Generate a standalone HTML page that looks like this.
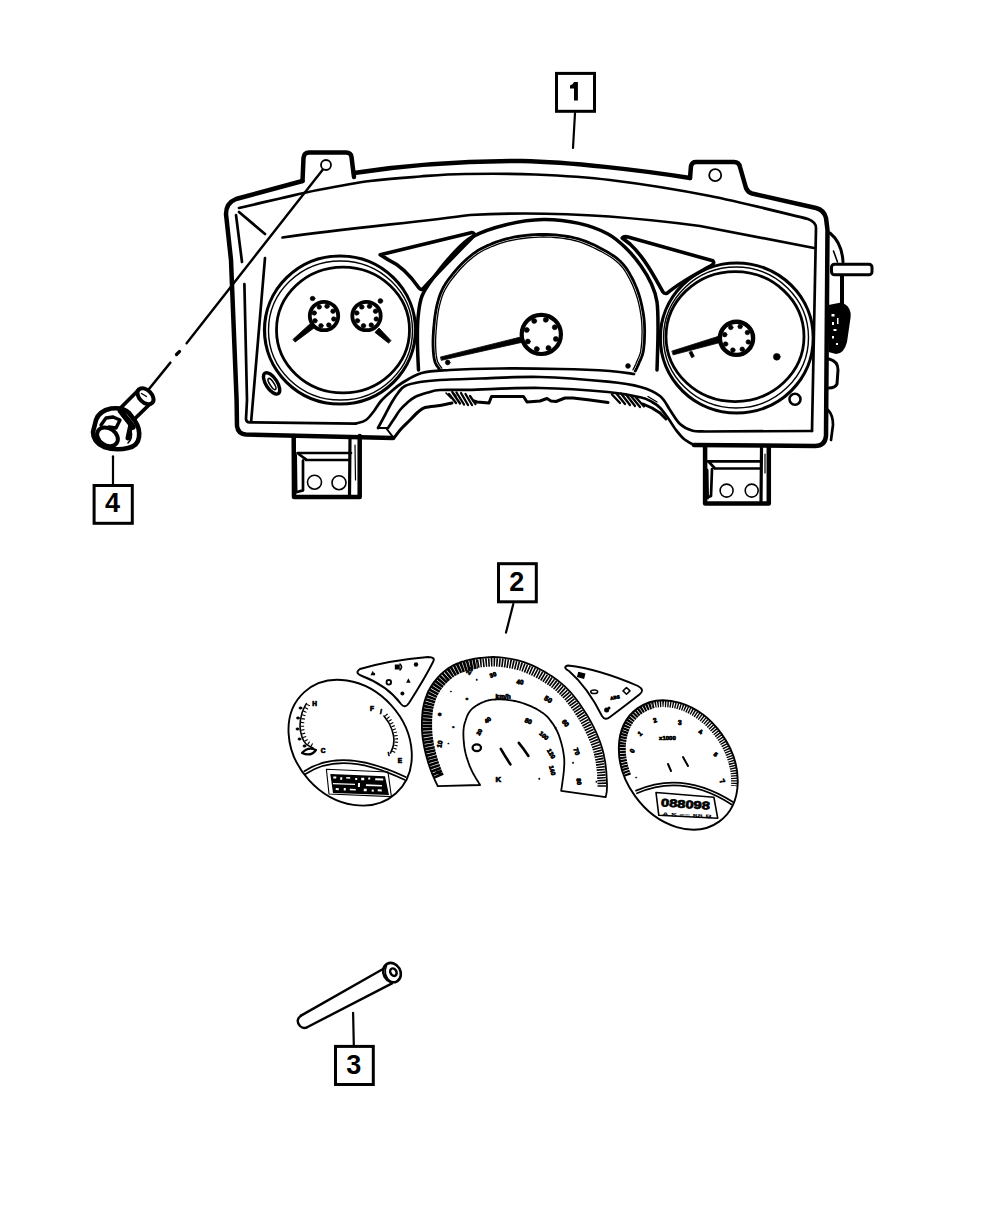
<!DOCTYPE html>
<html><head><meta charset="utf-8"><style>
html,body{margin:0;padding:0;background:#fff;}
svg{display:block;}
text{font-family:"Liberation Sans",sans-serif;}
</style></head><body>
<svg width="1000" height="1214" viewBox="0 0 1000 1214" stroke-linecap="round" stroke-linejoin="round">
<rect width="1000" height="1214" fill="#fff"/>
<rect x="556.5" y="73.4" width="38" height="37.89999999999999" fill="none" stroke="#000" stroke-width="3" stroke-linejoin="miter"/>
<path d="M574,82 L577.9,82 L577.9,100.6 L574,100.6 L574,88.6 L570,88.6 L570,85.4 Q573.2,84.9 574,82 Z" fill="#000"/>
<line x1="575" y1="113" x2="573" y2="148" stroke="#000" stroke-width="2.2"/>
<rect x="498.5" y="563.7" width="37.799999999999955" height="38.09999999999991" fill="none" stroke="#000" stroke-width="3" stroke-linejoin="miter"/>
<text x="516.8" y="591" text-anchor="middle" font-weight="bold" font-size="27">2</text>
<line x1="513.3" y1="604" x2="506" y2="632.6" stroke="#000" stroke-width="2.2"/>
<rect x="335.5" y="1046.4" width="37.80000000000001" height="38.09999999999991" fill="none" stroke="#000" stroke-width="3" stroke-linejoin="miter"/>
<text x="353.8" y="1074" text-anchor="middle" font-weight="bold" font-size="27">3</text>
<line x1="353.1" y1="1012.8" x2="353.8" y2="1045" stroke="#000" stroke-width="2.2"/>
<rect x="94.1" y="485.5" width="38.20000000000002" height="37.799999999999955" fill="none" stroke="#000" stroke-width="3" stroke-linejoin="miter"/>
<text x="112.4" y="512.3" text-anchor="middle" font-weight="bold" font-size="27">4</text>
<line x1="113" y1="456.3" x2="113" y2="484" stroke="#000" stroke-width="2.2"/>
<path d="M302.5,181 L303.5,158 Q304,152.5 309,152.5 L346,152.5 Q351,152.5 351.5,157 L354,177" fill="none" stroke="#000" stroke-width="4.5" />
<path d="M302.5,181 L236,199 Q226,203 226,214 L231,260 L236.6,400 L237,426 Q238,434 246,434.5 L393,438" fill="none" stroke="#000" stroke-width="4.5" />
<path d="M354,173 C400,166 450,161 522,161 C570,162 640,170 690,178" fill="none" stroke="#000" stroke-width="4.5" />
<path d="M690,178 L691,166 Q692,162 696,162 L734,162 Q739,162 740,167 L746,188 Q748,192.5 752,193.5 L816,208 Q824,210 826,218 L827.5,230 L826,436 Q825,446 815,446 L694,445" fill="none" stroke="#000" stroke-width="4.5" />
<path d="M239.0,208.0 C245.8,206.4 266.8,201.5 280.0,198.5 C293.2,195.5 303.0,192.9 318.0,190.0 C333.0,187.1 353.0,183.2 370.0,181.0 C387.0,178.8 404.2,177.7 420.0,176.5 C435.8,175.3 445.8,174.3 465.0,174.0 C484.2,173.7 510.8,173.5 535.0,174.5 C559.2,175.5 580.8,176.4 610.0,180.0 C639.2,183.6 677.0,189.5 710.0,196.0 C743.0,202.5 791.7,215.2 808.0,219.0 Q816,222 816,228 L812,431" fill="none" stroke="#000" stroke-width="2.7" />
<path d="M282.5,237.5 C350,228 420,222 470,215 C560,210 640,218 700,226 L814,248" fill="none" stroke="#000" stroke-width="2.7" />
<path d="M239,212 L265,234" fill="none" stroke="#000" stroke-width="2.7" />
<path d="M236,215 L242,262" fill="none" stroke="#000" stroke-width="2.7" />
<path d="M244.4,284 L247,400 L246,419 Q246,422.4 250,422.4 L356,423.6" fill="none" stroke="#000" stroke-width="2.7" />
<path d="M265,258 L251.2,421" fill="none" stroke="#000" stroke-width="2.7" />
<path d="M830,233 Q842,243 843,262" fill="none" stroke="#000" stroke-width="3" />
<path d="M833.5,251 L837.5,262" fill="none" stroke="#000" stroke-width="1.6" />
<rect x="831.5" y="264.2" width="40.5" height="10.5" rx="3" fill="#fff" stroke="#000" stroke-width="3"/>
<path d="M842,276 L842,305" fill="none" stroke="#000" stroke-width="4" />
<path d="M828.5,305 L841,302.5 Q852,306 850.5,318 L847,342 Q844,354 836,354 L828.5,352 Z" fill="#000"/>
<path d="M831.5,314 h3 v2.5 h-3z M832,322 h2 v3 h-2z M833.5,329 h3 v2 h-3z M832,336 h2 v2.5 h-2z M836,343 h2 v2 h-2z M837,318 h1.5 v6 h-1.5z" fill="#fff"/>
<path d="M829,359 Q838,361 838,370 L837,384 Q835,388 829,388" fill="none" stroke="#000" stroke-width="3" />
<path d="M828,410 Q833,415 833,425 L831,440" fill="none" stroke="#000" stroke-width="2.7" />
<ellipse cx="326" cy="165" rx="5" ry="5" fill="none" stroke="#000" stroke-width="1.8" />
<ellipse cx="715.2" cy="175.2" rx="6" ry="6" fill="none" stroke="#000" stroke-width="1.8" />
<path d="M322.5,170 L186.6,343.2" fill="none" stroke="#000" stroke-width="2.4" />
<path d="M179.5,351.5 L176.5,354.5" fill="none" stroke="#000" stroke-width="3.2" />
<path d="M170.3,362.7 L148.2,390" fill="none" stroke="#000" stroke-width="2.6" />
<ellipse cx="340" cy="330" rx="75.5" ry="74" fill="none" stroke="#000" stroke-width="3.2" />
<ellipse cx="340.5" cy="330.5" rx="72" ry="69.5" fill="none" stroke="#000" stroke-width="1.4" />
<ellipse cx="343" cy="330" rx="66.5" ry="62.8" fill="none" stroke="#000" stroke-width="2.8" />
<ellipse cx="324" cy="316" rx="14.2" ry="14.2" fill="none" stroke="#000" stroke-width="3.8" />
<ellipse cx="333.773092283755" cy="319.0231717141455" rx="2.3" ry="2.3" fill="#000" stroke="#000" stroke-width="0.6" />
<ellipse cx="328.7729146072414" cy="325.0483250467687" rx="2.3" ry="2.3" fill="#000" stroke="#000" stroke-width="0.6" />
<ellipse cx="320.9768282858545" cy="325.773092283755" rx="2.3" ry="2.3" fill="#000" stroke="#000" stroke-width="0.6" />
<ellipse cx="314.9516749532313" cy="320.77291460724143" rx="2.3" ry="2.3" fill="#000" stroke="#000" stroke-width="0.6" />
<ellipse cx="314.226907716245" cy="312.9768282858545" rx="2.3" ry="2.3" fill="#000" stroke="#000" stroke-width="0.6" />
<ellipse cx="319.22708539275857" cy="306.9516749532313" rx="2.3" ry="2.3" fill="#000" stroke="#000" stroke-width="0.6" />
<ellipse cx="327.0231717141455" cy="306.226907716245" rx="2.3" ry="2.3" fill="#000" stroke="#000" stroke-width="0.6" />
<ellipse cx="333.0483250467687" cy="311.22708539275857" rx="2.3" ry="2.3" fill="#000" stroke="#000" stroke-width="0.6" />
<ellipse cx="366.5" cy="316" rx="14.2" ry="14.2" fill="none" stroke="#000" stroke-width="3.8" />
<ellipse cx="376.273092283755" cy="319.0231717141455" rx="2.3" ry="2.3" fill="#000" stroke="#000" stroke-width="0.6" />
<ellipse cx="371.2729146072414" cy="325.0483250467687" rx="2.3" ry="2.3" fill="#000" stroke="#000" stroke-width="0.6" />
<ellipse cx="363.4768282858545" cy="325.773092283755" rx="2.3" ry="2.3" fill="#000" stroke="#000" stroke-width="0.6" />
<ellipse cx="357.4516749532313" cy="320.77291460724143" rx="2.3" ry="2.3" fill="#000" stroke="#000" stroke-width="0.6" />
<ellipse cx="356.726907716245" cy="312.9768282858545" rx="2.3" ry="2.3" fill="#000" stroke="#000" stroke-width="0.6" />
<ellipse cx="361.72708539275857" cy="306.9516749532313" rx="2.3" ry="2.3" fill="#000" stroke="#000" stroke-width="0.6" />
<ellipse cx="369.5231717141455" cy="306.226907716245" rx="2.3" ry="2.3" fill="#000" stroke="#000" stroke-width="0.6" />
<ellipse cx="375.5483250467687" cy="311.22708539275857" rx="2.3" ry="2.3" fill="#000" stroke="#000" stroke-width="0.6" />
<path d="M295.3,341.9 L315.6,326.8 L311.8,322.2 L293.1,339.3 Z" fill="#000" stroke="#000" stroke-width="0.8"/>
<path d="M390.8,340.4 L379.0,328.0 L375.0,332.4 L388.4,343.0 Z" fill="#000" stroke="#000" stroke-width="0.8"/>
<ellipse cx="380.4" cy="301" rx="2.4" ry="2.4" fill="#000" stroke="#000" stroke-width="0.6" />
<ellipse cx="312.6" cy="298.5" rx="2.4" ry="2.2" fill="#000" stroke="#000" stroke-width="0.6" />
<ellipse cx="271.6" cy="383.4" rx="12.2" ry="5.6" fill="none" stroke="#000" stroke-width="3.4" transform="rotate(57 271.6 383.4)" />
<ellipse cx="272" cy="384" rx="6.5" ry="2" fill="none" stroke="#000" stroke-width="1.6" transform="rotate(57 272 384)" />
<path d="M418.5,370.0 C418.3,365.8 417.6,353.7 417.5,345.0 C417.4,336.3 417.2,326.2 418.0,318.0 C418.8,309.8 419.3,302.8 422.0,296.0 C424.7,289.2 429.0,283.8 434.0,277.0 C439.0,270.2 445.7,261.7 452.0,255.0 C458.3,248.3 463.0,242.1 472.0,237.0 C481.0,231.9 494.2,227.6 506.0,224.7 C517.8,221.8 530.8,219.7 543.0,219.5 C555.2,219.3 568.2,221.0 579.0,223.4 C589.8,225.8 600.0,229.7 608.0,234.0 C616.0,238.3 621.3,243.7 626.8,249.0 C632.3,254.3 636.9,260.2 641.0,266.0 C645.1,271.8 648.8,278.0 651.5,284.0 C654.2,290.0 655.9,294.3 657.0,302.0 C658.1,309.7 658.0,318.7 658.0,330.0 C658.0,341.3 657.2,363.3 657.0,370.0" fill="none" stroke="#000" stroke-width="3.5" />
<path d="M439.6,369.6 L439.2,369.0 L438.6,368.2 L438.0,367.3 L437.3,366.3 L436.5,365.1 L435.8,363.9 L435.2,362.5 L434.7,361.0 L434.3,359.4 L434.0,357.6 L433.7,355.7 L433.5,353.7 L433.3,351.6 L433.2,349.5 L433.1,347.2 L433.0,345.0 L433.0,342.7 L433.0,340.3 L433.1,337.8 L433.2,335.2 L433.4,332.7 L433.5,330.1 L433.8,327.5 L434.0,325.0 L434.3,322.5 L434.5,319.9 L434.8,317.4 L435.2,314.8 L435.6,312.3 L436.0,309.8 L436.5,307.4 L437.0,305.0 L437.6,302.7 L438.2,300.5 L438.8,298.4 L439.5,296.2 L440.2,294.2 L441.1,292.1 L442.0,290.1 L443.0,288.0 L444.2,285.9 L445.4,283.9 L446.8,281.8 L448.2,279.8 L449.7,277.8 L451.3,275.8 L452.8,273.9 L454.4,272.0 L456.0,270.1 L457.6,268.3 L459.2,266.5 L460.9,264.7 L462.6,262.9 L464.4,261.2 L466.2,259.6 L468.0,258.0 L469.8,256.5 L471.6,255.0 L473.4,253.6 L475.2,252.3 L477.2,251.0 L479.2,249.7 L481.5,248.5 L484.0,247.2 L486.7,245.9 L489.6,244.7 L492.7,243.4 L495.9,242.1 L499.3,241.0 L502.8,239.9 L506.3,238.9 L510.0,238.0 L513.8,237.2 L517.8,236.5 L521.9,235.9 L526.1,235.4 L530.4,235.0 L534.7,234.7 L538.9,234.5 L543.0,234.4 L547.1,234.5 L551.2,234.6 L555.4,234.9 L559.5,235.4 L563.6,235.9 L567.5,236.5 L571.3,237.2 L575.0,238.0 L578.5,238.9 L581.9,240.0 L585.1,241.1 L588.2,242.4 L591.3,243.7 L594.3,245.1 L597.2,246.6 L600.0,248.0 L602.8,249.5 L605.5,250.9 L608.2,252.5 L610.8,254.1 L613.3,255.7 L615.7,257.4 L617.9,259.2 L620.0,261.0 L621.9,262.9 L623.6,264.9 L625.2,266.9 L626.7,268.9 L628.1,271.1 L629.4,273.3 L630.7,275.6 L632.0,278.0 L633.3,280.5 L634.5,283.1 L635.6,285.8 L636.8,288.5 L637.8,291.3 L638.8,294.2 L639.7,297.1 L640.5,300.0 L641.2,303.0 L641.9,306.0 L642.5,309.2 L643.1,312.3 L643.6,315.5 L644.0,318.7 L644.3,321.9 L644.5,325.0 L644.6,328.2 L644.7,331.5 L644.6,334.9 L644.5,338.2 L644.4,341.5 L644.1,344.6 L643.8,347.4 L643.5,350.0 L643.1,352.2 L642.6,354.2 L642.0,356.0 L641.4,357.6 L640.8,359.0 L640.2,360.4 L639.5,361.7 L639.0,363.0 L638.5,364.3 L637.9,365.5 L637.4,366.7 L636.9,367.8 L636.4,368.8 L635.9,369.7 L635.6,370.4 L635.3,371.0" fill="none" stroke="#000" stroke-width="2.8" />
<path d="M441.8,368.2 L441.3,367.5 L440.7,366.7 L440.1,365.8 L439.4,364.9 L438.8,363.8 L438.1,362.7 L437.6,361.5 L437.2,360.3 L436.9,358.8 L436.6,357.2 L436.3,355.4 L436.1,353.5 L435.9,351.4 L435.8,349.3 L435.7,347.1 L435.6,345.0 L435.6,342.7 L435.6,340.3 L435.7,337.9 L435.8,335.4 L436.0,332.8 L436.1,330.3 L436.4,327.8 L436.6,325.3 L436.8,322.8 L437.1,320.2 L437.4,317.7 L437.8,315.2 L438.1,312.7 L438.5,310.3 L439.0,307.9 L439.5,305.6 L440.1,303.4 L440.7,301.2 L441.3,299.1 L441.9,297.1 L442.7,295.1 L443.4,293.1 L444.3,291.2 L445.3,289.2 L446.4,287.3 L447.6,285.3 L448.9,283.3 L450.3,281.3 L451.8,279.4 L453.3,277.5 L454.8,275.5 L456.4,273.7 L458.0,271.8 L459.5,270.0 L461.1,268.2 L462.8,266.5 L464.5,264.8 L466.2,263.1 L467.9,261.5 L469.7,260.0 L471.5,258.5 L473.2,257.1 L475.0,255.7 L476.7,254.4 L478.6,253.2 L480.6,252.0 L482.7,250.8 L485.1,249.5 L487.8,248.3 L490.7,247.0 L493.7,245.8 L496.8,244.6 L500.1,243.4 L503.5,242.4 L507.0,241.4 L510.6,240.5 L514.3,239.8 L518.2,239.1 L522.3,238.5 L526.4,238.0 L530.6,237.6 L534.8,237.3 L539.0,237.1 L543.0,237.0 L547.0,237.1 L551.1,237.2 L555.2,237.5 L559.2,237.9 L563.2,238.4 L567.1,239.0 L570.8,239.7 L574.4,240.5 L577.8,241.4 L581.0,242.4 L584.2,243.6 L587.2,244.8 L590.2,246.1 L593.1,247.5 L596.0,248.9 L598.8,250.3 L601.6,251.7 L604.3,253.2 L606.9,254.7 L609.4,256.3 L611.8,257.8 L614.1,259.5 L616.3,261.2 L618.2,262.9 L620.0,264.7 L621.7,266.5 L623.2,268.4 L624.6,270.4 L625.9,272.5 L627.2,274.6 L628.4,276.9 L629.7,279.2 L630.9,281.6 L632.1,284.1 L633.2,286.8 L634.3,289.4 L635.3,292.2 L636.3,295.0 L637.2,297.8 L638.0,300.7 L638.7,303.6 L639.4,306.6 L640.0,309.6 L640.5,312.7 L641.0,315.8 L641.4,319.0 L641.7,322.1 L641.9,325.2 L642.0,328.3 L642.1,331.5 L642.0,334.8 L641.9,338.1 L641.8,341.3 L641.5,344.4 L641.2,347.2 L640.9,349.6 L640.6,351.7 L640.1,353.5 L639.6,355.1 L639.0,356.6 L638.4,358.0 L637.8,359.3 L637.2,360.6 L636.6,362.0 L636.1,363.3 L635.6,364.5 L635.0,365.6 L634.5,366.7 L634.1,367.7 L633.6,368.5 L633.2,369.3 L633.0,369.9" fill="none" stroke="#000" stroke-width="1.3" />
<ellipse cx="541.3" cy="334.4" rx="19.6" ry="19.6" fill="none" stroke="#000" stroke-width="4.2" />
<ellipse cx="555.8688814591654" cy="338.9066831515854" rx="2.5" ry="2.5" fill="#000" stroke="#000" stroke-width="0.6" />
<ellipse cx="548.4150486569337" cy="347.8884610912241" rx="2.5" ry="2.5" fill="#000" stroke="#000" stroke-width="0.6" />
<ellipse cx="536.7933168484145" cy="348.96888145916546" rx="2.5" ry="2.5" fill="#000" stroke="#000" stroke-width="0.6" />
<ellipse cx="527.8115389087759" cy="341.51504865693363" rx="2.5" ry="2.5" fill="#000" stroke="#000" stroke-width="0.6" />
<ellipse cx="526.7311185408345" cy="329.89331684841454" rx="2.5" ry="2.5" fill="#000" stroke="#000" stroke-width="0.6" />
<ellipse cx="534.1849513430662" cy="320.91153890877587" rx="2.5" ry="2.5" fill="#000" stroke="#000" stroke-width="0.6" />
<ellipse cx="545.8066831515854" cy="319.8311185408345" rx="2.5" ry="2.5" fill="#000" stroke="#000" stroke-width="0.6" />
<ellipse cx="554.788461091224" cy="327.2849513430663" rx="2.5" ry="2.5" fill="#000" stroke="#000" stroke-width="0.6" />
<path d="M441.6,360.3 L522.6,342.2 L521.4,336.8 L440.8,356.9 Z" fill="#000" stroke="#000" stroke-width="0.8"/>
<ellipse cx="447.7" cy="362.5" rx="2.4" ry="2.4" fill="#000" stroke="#000" stroke-width="0.6" />
<ellipse cx="628" cy="366" rx="2.4" ry="2.4" fill="#000" stroke="#000" stroke-width="0.6" />
<ellipse cx="736.8" cy="338" rx="76.5" ry="75" fill="none" stroke="#000" stroke-width="3.2" />
<ellipse cx="736" cy="337.5" rx="72.5" ry="70.5" fill="none" stroke="#000" stroke-width="1.4" />
<ellipse cx="735" cy="336.6" rx="69" ry="65" fill="none" stroke="#000" stroke-width="2.8" />
<ellipse cx="736.5" cy="338.3" rx="16.6" ry="16.6" fill="none" stroke="#000" stroke-width="4.4" />
<ellipse cx="748.2792989109187" cy="341.94376414813433" rx="2.3" ry="2.3" fill="#000" stroke="#000" stroke-width="0.6" />
<ellipse cx="742.2526917993438" cy="349.2057524757241" rx="2.3" ry="2.3" fill="#000" stroke="#000" stroke-width="0.6" />
<ellipse cx="732.8562358518657" cy="350.07929891091874" rx="2.3" ry="2.3" fill="#000" stroke="#000" stroke-width="0.6" />
<ellipse cx="725.5942475242758" cy="344.05269179934373" rx="2.3" ry="2.3" fill="#000" stroke="#000" stroke-width="0.6" />
<ellipse cx="724.7207010890813" cy="334.6562358518657" rx="2.3" ry="2.3" fill="#000" stroke="#000" stroke-width="0.6" />
<ellipse cx="730.7473082006562" cy="327.3942475242759" rx="2.3" ry="2.3" fill="#000" stroke="#000" stroke-width="0.6" />
<ellipse cx="740.1437641481343" cy="326.5207010890813" rx="2.3" ry="2.3" fill="#000" stroke="#000" stroke-width="0.6" />
<ellipse cx="747.4057524757242" cy="332.5473082006563" rx="2.3" ry="2.3" fill="#000" stroke="#000" stroke-width="0.6" />
<path d="M673.4,354.8 L719.9,342.6 L718.1,336.4 L672.2,351.0 Z" fill="#000" stroke="#000" stroke-width="0.8"/>
<path d="M689.2,352.7 L691.7,357.7 L694.3,356.3 L691.8,351.3 Z" fill="#000" stroke="#000" stroke-width="0.8"/>
<ellipse cx="776.8" cy="356.8" rx="3.4" ry="3.4" fill="#000" stroke="#000" stroke-width="0.6" />
<ellipse cx="795" cy="399.3" rx="5.5" ry="5.5" fill="none" stroke="#000" stroke-width="2.6" />
<path d="M380.2,254.8 L472,232.6 Q475,233 473.8,236 C462,248 440,270 422.8,289 Q420.4,290 419,288 C410,275 400,265 388,259.6 Z" fill="none" stroke="#000" stroke-width="3.6" />
<path d="M622.2,238 Q624,236 628,237 L712.8,260.8 Q715,263 712,265 C700,272 680,282 667.2,293.2 Q664,294 663,292 C655,278 645,258 630,244 Z" fill="none" stroke="#000" stroke-width="3.6" />
<path d="M356.0,423.6 C357.7,423.0 363.0,422.1 366.0,420.0 C369.0,417.9 371.5,414.2 374.0,411.0 C376.5,407.8 378.3,404.1 381.0,401.0 C383.7,397.9 386.5,395.5 390.0,392.5 C393.5,389.5 396.7,386.2 402.0,383.0 C407.3,379.8 413.7,375.2 421.7,373.0 C429.7,370.8 436.9,370.8 450.0,370.0 C463.1,369.2 481.7,368.7 500.0,368.5 C518.3,368.3 541.7,368.6 560.0,369.0 C578.3,369.4 597.7,370.2 610.0,371.0 C622.3,371.8 630.0,373.5 634.0,374.0" fill="none" stroke="#000" stroke-width="2.7" />
<path d="M378.0,428.0 C379.2,425.8 382.7,419.3 385.0,415.0 C387.3,410.7 389.8,405.7 392.0,402.0 C394.2,398.3 395.8,395.7 398.0,393.0 C400.2,390.3 401.3,387.8 405.0,386.0 C408.7,384.2 414.2,383.0 420.0,382.0 C425.8,381.0 430.0,380.6 440.0,380.0 C450.0,379.4 463.3,379.0 480.0,378.5 C496.7,378.0 518.7,376.5 540.0,377.0 C561.3,377.5 591.2,380.0 608.0,381.7 C624.8,383.4 631.8,384.6 640.5,387.0 C649.2,389.4 655.1,392.2 660.0,396.0 C664.9,399.8 666.7,405.3 670.0,410.0 C673.3,414.7 676.3,420.6 680.0,424.0 C683.7,427.4 687.8,429.2 692.0,430.5 C696.2,431.8 702.8,431.3 705.0,431.5 L812,431" fill="none" stroke="#000" stroke-width="2.7" />
<path d="M388.0,428.0 C389.0,426.5 392.0,422.0 394.0,419.0 C396.0,416.0 397.8,412.7 400.0,410.0 C402.2,407.3 404.5,405.2 407.0,403.0 C409.5,400.8 411.5,398.8 415.0,397.0 C418.5,395.2 423.8,393.7 428.0,392.5 C432.2,391.3 433.2,390.4 440.0,390.0 C446.8,389.6 451.8,390.1 468.5,389.8 C485.2,389.5 516.8,387.6 540.0,388.0 C563.2,388.4 591.2,390.4 608.0,392.0 C624.8,393.6 633.2,395.6 640.5,397.3 C647.8,399.0 648.8,400.3 652.0,402.0 C655.2,403.7 657.3,405.0 660.0,407.7 C662.7,410.4 665.3,414.3 668.0,418.0 C670.7,421.7 673.3,426.5 676.0,430.0 C678.7,433.5 681.0,436.5 684.0,439.0 C687.0,441.5 692.3,444.0 694.0,445.0" fill="none" stroke="#000" stroke-width="2.7" />
<path d="M394.0,438.0 C395.2,436.5 398.3,432.0 401.0,429.0 C403.7,426.0 407.2,422.8 410.0,420.0 C412.8,417.2 415.5,414.1 418.0,412.0 C420.5,409.9 421.3,408.6 425.0,407.5 C428.7,406.4 435.5,406.2 440.0,405.5 C444.5,404.8 450.0,403.4 452.0,403.0" fill="none" stroke="#000" stroke-width="3" />
<path d="M474,401 L477,402 L489,403 L491.5,396.5 L523.5,396.5 L527,402 L540,401 L547,398.5 L551,401 L556,401.5 L565,398 L573,398 L590,400 L608,402.5" fill="none" stroke="#000" stroke-width="3" />
<path d="M643,404 L652,408 L660,413 L666,419" fill="none" stroke="#000" stroke-width="3" />
<path d="M378,428 L388,428 M386,428 L393,437" fill="none" stroke="#000" stroke-width="2" />
<path d="M449,394 L456,403 M452.5,392.5 L460,403.5 M456.5,392.5 L464,404.5 M461,393 L468,405 M465.5,394 L472,405 M470,396 L475.5,404" stroke="#000" stroke-width="2.3" stroke-linecap="round"/>
<path d="M446,393 L451,398 M452,391.5 L456,396" stroke="#000" stroke-width="1.6"/>
<path d="M612,394.5 L620,403 M616,393 L625,404 M621,393.5 L630,405 M626,394.5 L635,406 M631,396 L640,407 M636,397.5 L644,406.5" stroke="#000" stroke-width="2.3" stroke-linecap="round"/>
<path d="M645,398 L655,404 M648,396.5 L657,402" stroke="#000" stroke-width="1.4"/>
<path d="M293.7,436 L294,497 L359.7,497 L359.7,436" fill="none" stroke="#000" stroke-width="4.5" />
<path d="M297.5,453 L351,453 M306,460 L349,460 M298.6,454 L306.3,459.6 M303,460.7 L303,490.4 L297,492" fill="none" stroke="#000" stroke-width="2.7" />
<path d="M350,438 L349.5,495" fill="none" stroke="#000" stroke-width="3.2" />
<path d="M355,445 L355.5,480" fill="none" stroke="#000" stroke-width="1.2" />
<path d="M295.5,455 L296,492" fill="none" stroke="#000" stroke-width="3" />
<ellipse cx="314.5" cy="482.2" rx="7" ry="7" fill="none" stroke="#000" stroke-width="1.6" />
<ellipse cx="339" cy="482.7" rx="7" ry="7" fill="none" stroke="#000" stroke-width="1.6" />
<path d="M705.1,447 L705.1,503.6 L768.8,503.6 L768.8,447" fill="none" stroke="#000" stroke-width="4.5" />
<path d="M707.7,461.4 L761,461.4 M715,468.5 L760,468.5 M709,462 L715,468.5 M712,469 L711,496 L706,498" fill="none" stroke="#000" stroke-width="2.7" />
<path d="M761.5,448 L761,501" fill="none" stroke="#000" stroke-width="3.2" />
<path d="M765,454 L765,473" fill="none" stroke="#000" stroke-width="1.2" />
<path d="M707,470 L707.5,498" fill="none" stroke="#000" stroke-width="3" />
<ellipse cx="726.6" cy="490.6" rx="6.5" ry="6.5" fill="none" stroke="#000" stroke-width="1.6" />
<ellipse cx="751.7" cy="490.6" rx="6.5" ry="6.5" fill="none" stroke="#000" stroke-width="1.6" />
<path d="M119,409.5 L138.5,390 L152,402 L133.5,420 Z" fill="#fff" stroke="#000" stroke-width="3.8" />
<ellipse cx="145.5" cy="396.2" rx="9.5" ry="6.2" fill="#fff" stroke="#000" stroke-width="4" transform="rotate(45 145.5 396.2)" />
<path d="M141.5,393.5 L146.5,396.5" fill="none" stroke="#000" stroke-width="1.4" />
<path d="M96,420 Q99,411 111,408.5 Q123,407 129,413 L135,421 Q140,428 139,437 Q138,446 128,448 Q116,451 104,447 Q93,442 93,432 Z" fill="#fff" stroke="#000" stroke-width="4.6" />
<path d="M120,411 L131,424 L128,438" fill="none" stroke="#000" stroke-width="5" />
<path d="M123,414 L133,427" fill="none" stroke="#000" stroke-width="5.5" />
<path d="M101,425 L106,418 L113,417 M113,417 L120,420 L116,428 M116,428 L109,427" fill="none" stroke="#000" stroke-width="3.4" />
<ellipse cx="107.5" cy="436.8" rx="11.2" ry="8.4" fill="#fff" stroke="#000" stroke-width="4" transform="rotate(35 107.5 436.8)" />
<path d="M131,431 Q133,438 128,443" fill="none" stroke="#000" stroke-width="1.6" />
<path d="M301,1015.6 L383,969 M306.6,1027.5 L392,983.4" fill="none" stroke="#000" stroke-width="2.4" />
<path d="M301,1015.6 Q295,1020 300,1026 Q303,1029 306.6,1027.5" fill="none" stroke="#000" stroke-width="2.4" />
<ellipse cx="392" cy="972.6" rx="8.5" ry="10" fill="none" stroke="#000" stroke-width="2.6" transform="rotate(-30 392 972.6)" />
<ellipse cx="393.4" cy="972.2" rx="3" ry="4" fill="none" stroke="#000" stroke-width="2.4" transform="rotate(-30 393.4 972.2)" />
<path d="M386.5,965.5 Q382.5,975 390.5,981.5" fill="none" stroke="#000" stroke-width="1.6" />
<path d="M437.7,786.2 L437.3,785.2 L436.7,783.9 L436.0,782.5 L435.2,780.8 L434.4,779.0 L433.6,777.1 L432.7,775.1 L431.9,773.2 L431.2,771.3 L430.5,769.5 L429.9,767.8 L429.3,766.0 L428.7,764.2 L428.1,762.4 L427.6,760.6 L427.1,758.8 L426.6,757.0 L426.1,755.2 L425.6,753.4 L425.2,751.6 L424.8,749.8 L424.4,748.0 L424.0,746.2 L423.7,744.4 L423.4,742.6 L423.1,740.8 L422.8,739.0 L422.6,737.2 L422.4,735.4 L422.2,733.6 L422.1,731.8 L422.0,730.0 L421.9,728.1 L421.9,726.3 L421.9,724.4 L421.9,722.6 L421.9,720.8 L422.0,719.0 L422.1,717.3 L422.2,715.7 L422.3,714.1 L422.5,712.6 L422.6,711.1 L422.8,709.7 L423.1,708.3 L423.3,706.9 L423.6,705.5 L423.9,704.1 L424.2,702.8 L424.6,701.4 L425.0,700.0 L425.4,698.7 L425.9,697.3 L426.4,696.0 L426.9,694.6 L427.4,693.3 L428.0,692.0 L428.6,690.7 L429.3,689.5 L430.0,688.2 L430.7,686.9 L431.5,685.7 L432.3,684.5 L433.2,683.2 L434.0,682.0 L435.0,680.8 L435.9,679.7 L436.9,678.5 L437.9,677.4 L438.9,676.3 L440.0,675.2 L441.0,674.2 L442.2,673.1 L443.3,672.1 L444.5,671.1 L445.7,670.2 L447.0,669.2 L448.2,668.3 L449.5,667.5 L450.8,666.7 L452.1,665.9 L453.5,665.2 L454.9,664.6 L456.3,663.9 L457.7,663.3 L459.2,662.8 L460.6,662.2 L462.1,661.7 L463.7,661.3 L465.2,660.8 L466.8,660.4 L468.4,660.0 L470.0,659.6 L471.6,659.3 L473.3,659.0 L475.0,658.7 L476.7,658.4 L478.4,658.2 L480.2,658.0 L481.9,657.8 L483.6,657.6 L485.3,657.5 L487.0,657.3 L488.7,657.2 L490.4,657.1 L492.2,657.0 L494.0,657.0 L495.9,657.1 L497.9,657.2 L500.0,657.4 L502.2,657.6 L504.5,657.9 L506.9,658.3 L509.4,658.7 L511.9,659.1 L514.5,659.6 L517.1,660.2 L519.7,660.8 L522.2,661.6 L524.7,662.4 L527.2,663.3 L529.7,664.3 L532.3,665.4 L534.8,666.6 L537.4,667.9 L539.9,669.2 L542.4,670.5 L544.8,671.9 L547.1,673.3 L549.4,674.7 L551.6,676.1 L553.7,677.6 L555.8,679.0 L557.8,680.5 L559.8,682.1 L561.7,683.6 L563.6,685.3 L565.5,687.0 L567.3,688.9 L569.2,690.8 L571.1,692.8 L572.9,695.0 L574.7,697.3 L576.5,699.6 L578.3,702.0 L580.1,704.5 L581.7,706.9 L583.4,709.4 L585.0,711.9 L586.5,714.3 L588.0,716.7 L589.4,719.2 L590.8,721.7 L592.1,724.2 L593.4,726.7 L594.6,729.2 L595.8,731.7 L596.9,734.2 L597.9,736.6 L598.9,739.0 L599.8,741.3 L600.6,743.6 L601.3,745.8 L602.0,747.9 L602.6,750.1 L603.2,752.3 L603.7,754.4 L604.1,756.6 L604.6,758.9 L605.0,761.2 L605.4,763.6 L605.7,766.2 L606.0,768.9 L606.3,771.6 L606.5,774.3 L606.6,776.9 L606.8,779.5 L606.9,781.9 L607.0,784.1 L607.0,786.0 L607.0,787.7 L606.9,789.3 L606.8,790.7 L606.7,792.0 L606.5,793.1 L606.3,794.1 L606.1,795.0 L605.9,795.8 L605.8,796.5 L605.7,797.1 L561.2,790.9 L561.4,789.1 L561.8,786.8 L562.2,784.0 L562.6,780.9 L563.1,777.6 L563.5,774.1 L563.9,770.7 L564.1,767.3 L564.3,764.1 L564.3,761.2 L564.2,758.5 L563.9,755.8 L563.5,753.2 L563.1,750.6 L562.6,748.1 L562.0,745.6 L561.4,743.2 L560.7,740.9 L560.0,738.6 L559.3,736.5 L558.5,734.4 L557.7,732.4 L556.8,730.5 L555.8,728.7 L554.8,726.9 L553.8,725.2 L552.7,723.6 L551.6,722.1 L550.5,720.6 L549.4,719.2 L548.3,717.9 L547.2,716.7 L546.1,715.6 L544.9,714.6 L543.7,713.6 L542.5,712.7 L541.2,711.9 L539.9,711.0 L538.5,710.2 L537.0,709.3 L535.4,708.4 L533.7,707.6 L531.9,706.7 L530.0,705.9 L528.1,705.1 L526.2,704.4 L524.2,703.7 L522.3,703.0 L520.4,702.4 L518.5,701.9 L516.6,701.4 L514.7,701.0 L512.8,700.6 L510.9,700.3 L509.0,700.1 L507.1,699.8 L505.3,699.7 L503.5,699.5 L501.7,699.4 L500.0,699.4 L498.4,699.4 L496.8,699.4 L495.2,699.5 L493.7,699.6 L492.2,699.7 L490.7,699.9 L489.3,700.2 L487.9,700.5 L486.4,700.9 L485.0,701.4 L483.5,702.0 L482.0,702.6 L480.5,703.3 L479.0,704.1 L477.5,704.9 L476.1,705.8 L474.7,706.7 L473.4,707.7 L472.3,708.7 L471.2,709.7 L470.3,710.8 L469.4,711.9 L468.7,713.0 L468.0,714.2 L467.4,715.5 L466.9,716.7 L466.4,718.0 L466.0,719.2 L465.6,720.5 L465.2,721.7 L464.8,722.9 L464.5,724.0 L464.2,725.1 L464.0,726.2 L463.8,727.3 L463.7,728.4 L463.5,729.6 L463.5,730.8 L463.4,732.2 L463.4,733.6 L463.4,735.2 L463.5,736.8 L463.5,738.6 L463.7,740.4 L463.8,742.2 L464.0,744.1 L464.2,746.0 L464.5,747.9 L464.8,749.8 L465.2,751.6 L465.6,753.4 L466.1,755.2 L466.6,757.1 L467.2,758.9 L467.8,760.7 L468.4,762.5 L469.1,764.3 L469.7,766.1 L470.5,767.8 L471.2,769.5 L472.0,771.2 L472.9,773.0 L473.9,774.8 L475.0,776.6 L476.0,778.4 L477.0,780.0 L478.0,781.6 L478.8,782.9 L479.6,784.1 L480.1,785.0 Z" fill="none" stroke="#000" stroke-width="1.8" />
<path d="M439.2,776.8 L438.4,775.0 L437.5,773.1 L436.7,771.2 L436.0,769.4 L435.4,767.7 L434.8,766.1 L434.2,764.3 L433.6,762.6 L433.1,760.9 L432.6,759.2 L432.1,757.4 L431.6,755.7 L431.1,753.9 L430.7,752.2 L430.3,750.4 L429.9,748.7 L429.5,746.9 L429.1,745.2 L428.8,743.5 L428.5,741.7 L428.2,740.0 L428.0,738.3 L427.7,736.6 L427.5,734.9 L427.4,733.2 L427.3,731.5 L427.2,729.7 L427.1,728.0 L427.1,726.2 L427.1,724.4 L427.1,722.7 L427.1,721.0 L427.2,719.3 L427.3,717.7 L427.4,716.1 L427.5,714.6 L427.6,713.1 L427.8,711.8 L428.0,710.4 L428.2,709.1 L428.4,707.8 L428.7,706.6 L429.0,705.3 L429.3,704.1 L429.6,702.8 L430.0,701.5 L430.4,700.3 L430.8,699.0 L431.2,697.8 L431.7,696.6 L432.2,695.4 L432.7,694.2 L433.3,693.1 L433.9,691.9 L434.5,690.8 L435.2,689.6 L435.9,688.5 L436.6,687.4 L437.4,686.2 L438.2,685.1 L439.0,684.0 L439.9,683.0 L440.8,681.9 L441.7,680.9 L442.6,679.9 L443.6,678.9 L444.6,677.9 L445.7,677.0 L446.7,676.1 L447.8,675.2 L448.9,674.3 L450.0,673.4 L451.1,672.6 L452.3,671.9 L453.4,671.2 L454.6,670.5 L455.8,669.9 L457.1,669.3 L458.3,668.7 L459.6,668.2 L461.0,667.6 L462.3,667.2 L463.7,666.7 L465.2,666.2 L466.6,665.8 L468.1,665.4 L469.6,665.0 L471.1,664.7 L472.6,664.4 L474.2,664.1 L475.8,663.8 L477.4,663.6" fill="none" stroke="#000" stroke-width="10" stroke-dasharray="2.6 0.6" stroke-linecap="butt"/>
<path d="M477.4,663.6 L479.1,663.3 L480.7,663.1 L482.4,663.0 L484.1,662.8 L485.8,662.6 L487.4,662.5 L489.1,662.4 L490.7,662.3 L492.3,662.2 L494.0,662.2 L495.7,662.3 L497.5,662.4 L499.5,662.6 L501.6,662.8 L503.8,663.1 L506.2,663.4 L508.6,663.8 L511.0,664.2 L513.4,664.7 L515.9,665.3 L518.3,665.9 L520.7,666.5 L523.0,667.3 L525.3,668.2 L527.7,669.1 L530.1,670.2 L532.6,671.3 L535.0,672.5 L537.4,673.8 L539.8,675.0 L542.2,676.4 L544.4,677.7 L546.6,679.1 L548.7,680.5 L550.8,681.8 L552.7,683.2 L554.6,684.6 L556.5,686.1 L558.3,687.6 L560.1,689.2 L561.9,690.8 L563.7,692.5 L565.4,694.3 L567.1,696.3 L568.9,698.3 L570.6,700.5 L572.4,702.7 L574.1,705.1 L575.8,707.4 L577.4,709.8 L579.0,712.3 L580.6,714.7 L582.1,717.0 L583.5,719.4 L584.9,721.8 L586.2,724.2 L587.5,726.6 L588.7,729.1 L589.9,731.5 L591.1,733.9 L592.1,736.3 L593.1,738.6 L594.1,740.9 L594.9,743.1 L595.7,745.3 L596.4,747.3 L597.0,749.4 L597.6,751.5 L598.1,753.5 L598.6,755.6 L599.0,757.7 L599.5,759.8 L599.9,762.1 L600.2,764.4 L600.6,766.8 L600.8,769.4 L601.1,772.0 L601.3,774.7 L601.4,777.3 L601.6,779.7 L601.7,782.1 L601.8,784.2 L601.8,786.1 L601.8,787.6" fill="none" stroke="#000" stroke-width="8.5" stroke-dasharray="1.6 1.1" stroke-linecap="butt"/>
<ellipse cx="350.15" cy="742.7" rx="68.3" ry="55.6" fill="none" stroke="#000" stroke-width="1.9" transform="rotate(47.8 350.15 742.7)" />
<path d="M304.3,771.3 Q342,746.5 405.7,777.1" fill="none" stroke="#000" stroke-width="1.7" />
<path d="M305.5,774 Q342,749.5 404.5,779.8" fill="none" stroke="#000" stroke-width="1.7" />
<path d="M326.4,769.3 L388,772 L391.4,796.6 L329,794 Z" fill="none" stroke="#000" stroke-width="1.1" />
<path d="M330.3,774 L385,776.2 L389,795 L333,793 Z" fill="#000"/>
<g fill="#fff" transform="rotate(2.4 358 784)"><rect x="333" y="777.5" width="3" height="2"/><rect x="340" y="778" width="2" height="2.5"/><rect x="346" y="777.5" width="4" height="1.5"/><rect x="355" y="778" width="2" height="2"/><rect x="361" y="777.5" width="3" height="2.5"/><rect x="368" y="777" width="2" height="2"/><rect x="375" y="777.5" width="8" height="2"/><rect x="333" y="784" width="22" height="1.2"/><rect x="358" y="783" width="2" height="4"/><rect x="366" y="784" width="16" height="1.6"/><rect x="336" y="789" width="3" height="2"/><rect x="344" y="788.5" width="2" height="2.5"/><rect x="350" y="789" width="6" height="1.5"/><rect x="364" y="788.5" width="3" height="2.5"/><rect x="372" y="789" width="2" height="2"/><rect x="378" y="788.5" width="4" height="2"/></g>
<path d="M306.4,703.5 C305.7,705.1 303.1,709.2 302.0,713.0 C300.9,716.8 300.0,722.0 300.0,726.0 C300.0,730.0 301.0,734.0 302.0,737.0 C303.0,740.0 304.2,742.2 306.0,744.0 C307.8,745.8 311.8,747.3 313.0,748.0" fill="none" stroke="#000" stroke-width="1.6" />
<path d="M308.5,704.6 L308.3,705.1 L307.9,705.9 L307.4,706.7 L307.0,707.6 L306.5,708.5 L306.0,709.5 L305.5,710.6 L305.0,711.6 L304.6,712.7 L304.3,713.7 L304.0,714.8 L303.7,715.9 L303.4,717.2 L303.2,718.5 L303.0,719.8 L302.8,721.1 L302.6,722.4 L302.5,723.7 L302.4,724.9 L302.4,726.0 L302.4,727.1 L302.5,728.2 L302.6,729.3 L302.8,730.3 L303.0,731.4 L303.2,732.4 L303.5,733.5 L303.7,734.4 L304.0,735.4 L304.3,736.2 L304.6,737.1 L304.8,737.8 L305.1,738.5 L305.5,739.2 L305.8,739.8 L306.1,740.3 L306.5,740.9 L306.9,741.4 L307.3,741.8 L307.7,742.3 L308.1,742.7 L308.7,743.1 L309.3,743.5 L310.1,743.9 L310.8,744.3 L311.6,744.7 L312.3,745.0 L313.0,745.3 L313.6,745.6 L314.1,745.9" fill="none" stroke="#000" stroke-width="3.4" stroke-dasharray="1.1 2.6" stroke-linecap="butt"/>
<ellipse cx="300.5" cy="708" rx="1.6" ry="1.2" fill="#000" stroke="#000" stroke-width="0.5" />
<ellipse cx="298.0" cy="718" rx="1.6" ry="1.2" fill="#000" stroke="#000" stroke-width="0.5" />
<ellipse cx="297.5" cy="729" rx="1.6" ry="1.2" fill="#000" stroke="#000" stroke-width="0.5" />
<ellipse cx="299.5" cy="739" rx="1.6" ry="1.2" fill="#000" stroke="#000" stroke-width="0.5" />
<ellipse cx="304.5" cy="746" rx="1.6" ry="1.2" fill="#000" stroke="#000" stroke-width="0.5" />
<path d="M384.0,716.0 C384.9,717.3 387.9,720.8 389.5,724.0 C391.1,727.2 392.8,732.0 393.5,735.5 C394.2,739.0 394.0,742.1 393.5,745.0 C393.0,747.9 391.0,751.7 390.5,753.0" fill="none" stroke="#000" stroke-width="1.6" />
<path d="M385.9,714.6 L386.3,715.0 L386.7,715.6 L387.2,716.2 L387.8,717.0 L388.4,717.9 L389.1,718.8 L389.8,719.8 L390.4,720.8 L391.1,721.9 L391.6,722.9 L392.2,724.0 L392.7,725.2 L393.2,726.4 L393.6,727.6 L394.1,728.9 L394.5,730.1 L394.9,731.4 L395.3,732.6 L395.6,733.9 L395.9,735.0 L396.0,736.2 L396.2,737.3 L396.3,738.4 L396.3,739.5 L396.3,740.5 L396.3,741.5 L396.2,742.5 L396.1,743.5 L396.0,744.5 L395.9,745.4 L395.6,746.5 L395.3,747.5 L395.0,748.6 L394.6,749.6 L394.2,750.5 L393.8,751.4 L393.5,752.2 L393.1,752.9 L392.9,753.5 L392.7,753.9" fill="none" stroke="#000" stroke-width="3.4" stroke-dasharray="1.1 2.2" stroke-linecap="butt"/>
<text x="314.7" y="705.8" text-anchor="middle" font-weight="bold" font-size="6.5" stroke="#000" stroke-width="0.7" >H</text>
<text x="323.2" y="752.8" text-anchor="middle" font-weight="bold" font-size="6.5" stroke="#000" stroke-width="0.7" >C</text>
<text x="372" y="711.3" text-anchor="middle" font-weight="bold" font-size="6.5" stroke="#000" stroke-width="0.7" >F</text>
<text x="381" y="713.5" text-anchor="middle" font-weight="bold" font-size="7" stroke="#000" stroke-width="0.7" >/</text>
<text x="399.9" y="762.8" text-anchor="middle" font-weight="bold" font-size="6.5" stroke="#000" stroke-width="0.7" >E</text>
<text x="388.5" y="756.2" text-anchor="middle" font-weight="bold" font-size="6" stroke="#000" stroke-width="0.7" >\</text>
<path d="M302,753 Q308,746 316,750 Q311,757 302,753 Z" fill="none" stroke="#000" stroke-width="2.2" />
<path d="M362,676 Q354,673 360,669 C380,663 405,659 428,657 Q436,657 433,662 C425,678 416,692 409,703 Q405,709 401,704 C392,692 378,682 362,676 Z" fill="none" stroke="#000" stroke-width="1.9" />
<path d="M372.7,670.75 L374.95,675.25 L370.45,675.25 Z" fill="#000"/>
<circle cx="374" cy="674" r="1.2" fill="#000"/>
<rect x="394.8" y="664.5" width="5" height="5" fill="#000"/>
<path d="M400,664 q3,3 0,6" stroke="#000" fill="none" stroke-width="1.6"/>
<circle cx="416" cy="664.5" r="2.2" fill="#000"/>
<circle cx="388.8" cy="682.3" r="2.3" fill="none" stroke="#000" stroke-width="1.8"/>
<path d="M408.4,678.35 L410.65,682.85 L406.15,682.85 Z" fill="#000"/>
<circle cx="402.4" cy="693.4" r="2" fill="#000"/>
<path d="M569,671 Q562,667 568,665.5 C590,668 615,676 638,686 Q645,690 640,694 C630,702 618,711 610,717 Q605,721 602,716 C595,702 585,685 569,671 Z" fill="none" stroke="#000" stroke-width="1.9" />
<rect x="577.5" y="672.5" width="7.5" height="5.5" fill="#000" transform="rotate(15 581 675)"/>
<ellipse cx="594.2" cy="691.8" rx="3.5" ry="1.8" fill="none" stroke="#000" stroke-width="1.5"/>
<text x="615" y="699.1" text-anchor="middle" font-weight="bold" font-size="4.5" stroke="#000" stroke-width="0.7" transform="rotate(-10 615 697.5)" >ABS</text>
<path d="M626.5,687.5 L630,690.9 L626.5,694.3 L623,690.9 Z" fill="none" stroke="#000" stroke-width="1.5"/>
<circle cx="606.6" cy="709.9" r="2.5" fill="#000"/>
<circle cx="609" cy="708" r="1.5" fill="#000"/>
<text x="469.4" y="673.3" text-anchor="middle" font-weight="bold" font-size="6.5" stroke="#000" stroke-width="0.7" transform="rotate(-55 469.4 671)" >20</text>
<text x="492.9" y="676.9" text-anchor="middle" font-weight="bold" font-size="6" stroke="#000" stroke-width="0.7" transform="rotate(-20 492.9 674.7)" >30</text>
<text x="520" y="684.3" text-anchor="middle" font-weight="bold" font-size="6.5" stroke="#000" stroke-width="0.7" transform="rotate(5 520 682)" >40</text>
<text x="548.2" y="701.9" text-anchor="middle" font-weight="bold" font-size="7" stroke="#000" stroke-width="0.7" transform="rotate(30 548.2 699.4)" >50</text>
<text x="565.5" y="725.3" text-anchor="middle" font-weight="bold" font-size="6.5" stroke="#000" stroke-width="0.7" transform="rotate(50 565.5 723)" >60</text>
<text x="576.6" y="753.7" text-anchor="middle" font-weight="bold" font-size="6.5" stroke="#000" stroke-width="0.7" transform="rotate(70 576.6 751.4)" >70</text>
<text x="579.1" y="783.8" text-anchor="middle" font-weight="bold" font-size="6" stroke="#000" stroke-width="0.7" transform="rotate(85 579.1 781.6)" >80</text>
<text x="439.7" y="718.3" text-anchor="middle" font-weight="bold" font-size="11" stroke="#000" stroke-width="0.7" >&#8226;</text>
<text x="439.7" y="746.3" text-anchor="middle" font-weight="bold" font-size="6.5" stroke="#000" stroke-width="0.7" transform="rotate(-80 439.7 744)" >10</text>
<text x="438.5" y="774.7" text-anchor="middle" font-weight="bold" font-size="6.5" stroke="#000" stroke-width="0.7" transform="rotate(-90 438.5 772.4)" >0</text>
<text x="466.9" y="701.1" text-anchor="middle" font-weight="bold" font-size="8" stroke="#000" stroke-width="0.7" >&#8226;</text>
<text x="450.8" y="691.8" text-anchor="middle" font-weight="bold" font-size="6" stroke="#000" stroke-width="0.7" >.</text>
<text x="476.8" y="682.5" text-anchor="middle" font-weight="bold" font-size="6" stroke="#000" stroke-width="0.7" >'</text>
<text x="453.3" y="728.8" text-anchor="middle" font-weight="bold" font-size="6" stroke="#000" stroke-width="0.7" >&#8226;</text>
<text x="448.4" y="743.7" text-anchor="middle" font-weight="bold" font-size="6" stroke="#000" stroke-width="0.7" >.</text>
<text x="555.6" y="727.6" text-anchor="middle" font-weight="bold" font-size="6" stroke="#000" stroke-width="0.7" >,</text>
<text x="572.9" y="765.9" text-anchor="middle" font-weight="bold" font-size="6" stroke="#000" stroke-width="0.7" >'</text>
<text x="596.4" y="785.3" text-anchor="middle" font-weight="bold" font-size="5" stroke="#000" stroke-width="0.7" >'</text>
<text x="487.6" y="722.2" text-anchor="middle" font-weight="bold" font-size="6" stroke="#000" stroke-width="0.7" transform="rotate(-40 487.6 720)" >40</text>
<text x="479.2" y="734.0" text-anchor="middle" font-weight="bold" font-size="5.5" stroke="#000" stroke-width="0.7" transform="rotate(-60 479.2 732)" >20</text>
<text x="528.4" y="723.5" text-anchor="middle" font-weight="bold" font-size="6.5" stroke="#000" stroke-width="0.7" transform="rotate(20 528.4 721.2)" >80</text>
<text x="544" y="737.8" text-anchor="middle" font-weight="bold" font-size="6" stroke="#000" stroke-width="0.7" transform="rotate(40 544 735.6)" >100</text>
<text x="551.2" y="755.8" text-anchor="middle" font-weight="bold" font-size="6" stroke="#000" stroke-width="0.7" transform="rotate(60 551.2 753.6)" >120</text>
<text x="552.4" y="772.6" text-anchor="middle" font-weight="bold" font-size="6" stroke="#000" stroke-width="0.7" transform="rotate(75 552.4 770.4)" >140</text>
<text x="539.2" y="781.6" text-anchor="middle" font-weight="bold" font-size="6" stroke="#000" stroke-width="0.7" >'</text>
<text x="498.4" y="781.7" text-anchor="middle" font-weight="bold" font-size="8" stroke="#000" stroke-width="0.7" >K</text>
<ellipse cx="476.8" cy="747.7" rx="4.2" ry="3.4" fill="none" stroke="#000" stroke-width="2.3" />
<path d="M500.8,748.8 Q505,756 510.4,764.4" fill="none" stroke="#000" stroke-width="2.6" />
<path d="M518.8,742.8 Q524,749 528.4,756" fill="none" stroke="#000" stroke-width="2.6" />
<text x="503.2" y="698.8" text-anchor="middle" font-weight="bold" font-size="6.5" stroke="#000" stroke-width="0.7" >km/h</text>
<ellipse cx="678.3" cy="765" rx="69.8" ry="53.3" fill="none" stroke="#000" stroke-width="1.9" transform="rotate(54.2 678.3 765)" />
<path d="M627.7,775.6 L627.2,774.2 L626.6,772.8 L626.2,771.4 L625.7,770.0 L625.3,768.6 L624.9,767.2 L624.5,765.8 L624.2,764.4 L623.9,763.0 L623.6,761.6 L623.3,760.2 L623.1,758.8 L622.9,757.4 L622.7,756.0 L622.6,754.7 L622.5,753.3 L622.4,751.9 L622.3,750.5 L622.3,749.2 L622.3,747.8 L622.3,746.5 L622.4,745.2 L622.5,743.8 L622.6,742.5 L622.8,741.2 L623.0,740.0 L623.2,738.7 L623.4,737.4 L623.7,736.2 L624.0,735.0 L624.3,733.7 L624.7,732.5 L625.0,731.4 L625.4,730.2 L625.9,729.1 L626.4,727.9 L626.8,726.8 L627.4,725.7 L627.9,724.7 L628.5,723.6 L629.1,722.6 L629.7,721.6 L630.4,720.6 L631.0,719.7 L631.7,718.8 L632.5,717.9 L633.2,717.0 L634.0,716.1 L634.8,715.3 L635.6,714.5 L636.4,713.7 L637.3,713.0 L638.2,712.2 L639.1,711.5 L640.0,710.9 L641.0,710.2 L641.9,709.6 L642.9,709.1 L643.9,708.5 L644.9,708.0 L646.0,707.5 L647.0,707.0 L648.1,706.6 L649.2,706.2 L650.3,705.8 L651.4,705.5 L652.5,705.2" fill="none" stroke="#000" stroke-width="7" stroke-dasharray="2.2 0.7" stroke-linecap="butt"/>
<path d="M652.5,705.2 L653.7,704.9 L654.8,704.7 L656.0,704.4 L657.2,704.3 L658.4,704.1 L659.6,704.0 L660.8,703.9 L662.0,703.9 L663.3,703.8 L664.5,703.9 L665.7,703.9 L667.0,704.0 L668.3,704.1 L669.5,704.2 L670.8,704.4 L672.1,704.6 L673.3,704.8 L674.6,705.1 L675.9,705.4 L677.2,705.7 L678.5,706.1 L679.7,706.5 L681.0,706.9 L682.3,707.3 L683.6,707.8 L684.9,708.3 L686.1,708.9 L687.4,709.5 L688.7,710.1 L689.9,710.7 L691.2,711.3 L692.4,712.0 L693.7,712.7 L694.9,713.5 L696.1,714.3 L697.3,715.1 L698.5,715.9 L699.7,716.7 L700.9,717.6 L702.1,718.5 L703.2,719.4 L704.4,720.4 L705.5,721.3 L706.6,722.3 L707.7,723.3 L708.8,724.4 L709.8,725.4 L710.9,726.5 L711.9,727.6 L712.9,728.7 L713.9,729.9 L714.9,731.0 L715.9,732.2 L716.8,733.4 L717.7,734.6 L718.6,735.8 L719.5,737.0 L720.4,738.3 L721.2,739.6 L722.0,740.9 L722.8,742.1 L723.6,743.4 L724.3,744.8 L725.0,746.1 L725.7,747.4 L726.4,748.8 L727.1,750.1 L727.7,751.5 L728.3,752.9 L728.8,754.2 L729.4,755.6 L729.9,757.0 L730.4,758.4 L730.8,759.8 L731.3,761.2 L731.7,762.6 L732.0,764.0 L732.4,765.4 L732.7,766.8 L733.0,768.2 L733.3,769.6 L733.5,771.0 L733.7,772.4 L733.9,773.8 L734.0,775.2 L734.1,776.5 L734.2,777.9 L734.3,779.3 L734.3,780.6 L734.3,782.0 L734.3,783.3 L734.2,784.6 L734.1,786.0" fill="none" stroke="#000" stroke-width="6.5" stroke-dasharray="1.4 1.1" stroke-linecap="butt"/>
<path d="M636,790.6 Q683,770 733,802" fill="none" stroke="#000" stroke-width="1.7" />
<path d="M637,793.3 Q683,773 732,804.7" fill="none" stroke="#000" stroke-width="1.7" />
<path d="M656,792.5 L713.9,797.3 L717.7,818.2 L658.8,815.3 Z" fill="none" stroke="#000" stroke-width="1.6" />
<text x="661" y="808" font-weight="bold" font-size="11" stroke="#000" stroke-width="0.7" textLength="49" lengthAdjust="spacingAndGlyphs" transform="rotate(4 686 804)">088098</text>
<text x="662" y="817" font-weight="bold" font-size="5" textLength="50" lengthAdjust="spacingAndGlyphs" transform="rotate(3 686 814)">A  S  ==  88  B</text>
<text x="639.8" y="735.9" text-anchor="middle" font-weight="bold" font-size="6.5" stroke="#000" stroke-width="0.7" transform="rotate(-40 639.8 733.6)" >1</text>
<text x="655" y="722.6" text-anchor="middle" font-weight="bold" font-size="6.5" stroke="#000" stroke-width="0.7" transform="rotate(-20 655 720.3)" >2</text>
<text x="679.7" y="724.5" text-anchor="middle" font-weight="bold" font-size="6.5" stroke="#000" stroke-width="0.7" >3</text>
<text x="700.6" y="734.0" text-anchor="middle" font-weight="bold" font-size="6.5" stroke="#000" stroke-width="0.7" transform="rotate(20 700.6 731.7)" >4</text>
<text x="632.2" y="753.0" text-anchor="middle" font-weight="bold" font-size="6.5" stroke="#000" stroke-width="0.7" transform="rotate(-60 632.2 750.7)" >0</text>
<text x="715.8" y="756.7" text-anchor="middle" font-weight="bold" font-size="6" stroke="#000" stroke-width="0.7" transform="rotate(40 715.8 754.5)" >5</text>
<text x="722.5" y="783.6" text-anchor="middle" font-weight="bold" font-size="7" stroke="#000" stroke-width="0.7" transform="rotate(60 722.5 781.1)" >7</text>
<text x="636" y="777.6" text-anchor="middle" font-weight="bold" font-size="6" stroke="#000" stroke-width="0.7" >.</text>
<text x="667.4" y="739.6" text-anchor="middle" font-weight="bold" font-size="6" stroke="#000" stroke-width="0.7" >x1000</text>
<path d="M668,764 L671,771" fill="none" stroke="#000" stroke-width="2" />
<path d="M683,757 L688,766" fill="none" stroke="#000" stroke-width="2" />
</svg>
</body></html>
